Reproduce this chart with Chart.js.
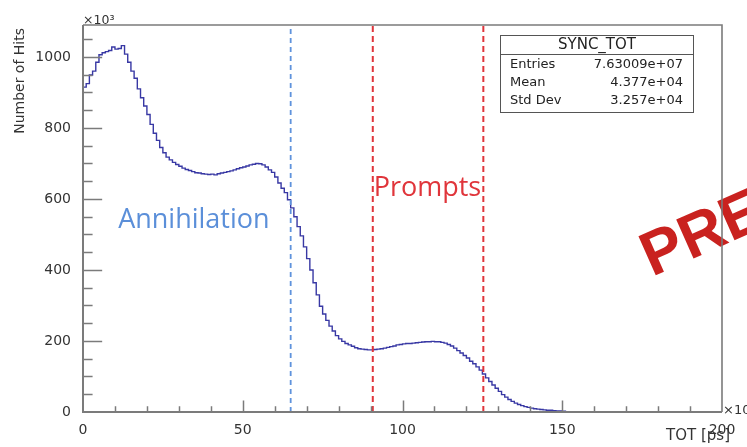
<!DOCTYPE html>
<html>
<head>
<meta charset="utf-8">
<script src="https://cdn.jsdelivr.net/npm/chart.js@4/dist/chart.umd.min.js"></script>
<style>
  html, body { margin: 0; padding: 0; background: #ffffff; }
  canvas { display: block; }
</style>
</head>
<body>
<canvas id="c" width="747" height="447"></canvas>
<script>
// SYNC_TOT: hits per 1 ps TOT bin, in units of 10^3 hits; bin i covers [i, i+1)
const binWidth = 1;
const hitsK = [
  915, 925, 949, 960, 985, 1006, 1012, 1015, 1018, 1028,
  1022, 1024, 1032, 1008, 985, 960, 940, 910, 885, 862,
  838, 810, 785, 765, 745, 730, 718, 710, 703, 697,
  692, 687, 683, 680, 677, 674, 673, 671, 670, 669,
  670, 668, 671, 673, 675, 677, 679, 682, 685, 688,
  690, 693, 696, 698, 700, 699, 696, 690, 682, 675,
  662, 645, 630, 618, 598, 575, 550, 522, 496, 465,
  432, 400, 364, 330, 298, 276, 258, 242, 228, 215,
  206, 199, 193, 189, 185, 181, 178, 177, 176, 175,
  175, 176, 177, 178, 180, 182, 184, 186, 189, 190,
  192, 193, 193, 194, 195, 196, 197, 198, 198, 199,
  198, 198, 196, 194, 190, 186, 180, 173, 166, 159,
  152, 143, 136, 127, 118, 107, 96, 86, 76, 67,
  58, 49, 42, 35, 30, 25, 21, 18, 15, 13,
  11, 9, 8, 7, 6, 5, 5, 4, 3, 3,
  2, 1
];

// axis ranges and labelled ticks
const xRange = [0, 200];
const yRange = [0, 1090];
const xTickValues = [0, 50, 100, 150, 200];
const yTickValues = [0, 200, 400, 600, 800, 1000];
const xMinorStep = 10;
const yMinorStep = 50;

// selection cuts on TOT
const annihilationCut = [65];
const promptCuts = [90.7, 125.3];

// statistics box
const statsTitle = 'SYNC_TOT';
const statsNames = ['Entries', 'Mean', 'Std Dev'];
const statsValues = ['7.63009e+07', '4.377e+04', '3.257e+04'];

const ROOT_FONT = '"DejaVu Sans", "Liberation Sans", sans-serif';
const AXIS_GRAY = '#7b7b7b';

// histogram outline: one point per bin left edge, closed at the last bin's right edge
const histPoints = hitsK.map((v, i) => ({ x: i * binWidth, y: v }));
histPoints.push({ x: hitsK.length * binWidth, y: 0 });

function cutLine(x) {
  return [{ x: x, y: yRange[0] }, { x: x, y: yRange[1] }];
}

const cutDatasets = [
  ...annihilationCut.map(x => ({
    data: cutLine(x), borderColor: '#5f93dc', borderWidth: 1.8,
    borderDash: [5, 4], pointRadius: 0, fill: false
  })),
  ...promptCuts.map(x => ({
    data: cutLine(x), borderColor: '#e0353b', borderWidth: 2,
    borderDash: [6, 4], pointRadius: 0, fill: false
  }))
];

// frame, inward ticks, stats box and annotations drawn in the ROOT style
const rootStyle = {
  id: 'rootStyle',
  afterDatasetsDraw(chart) {
    const ctx = chart.ctx;
    const xs = chart.scales.x, ys = chart.scales.y;

    // region annotations
    ctx.save();
    ctx.font = '27px "Open Sans", Lato, sans-serif';
    ctx.textAlign = 'center';
    ctx.textBaseline = 'middle';
    ctx.fillStyle = '#5b8fd9';
    ctx.fillText('Annihilation', xs.getPixelForValue(34.7), ys.getPixelForValue(541));
    ctx.fillStyle = '#e0353b';
    ctx.fillText('Prompts', xs.getPixelForValue(107.8), ys.getPixelForValue(631));
    ctx.restore();

    // watermark
    ctx.save();
    ctx.translate(652, 277);
    ctx.rotate(-24 * Math.PI / 180);
    ctx.font = 'bold 62px "Liberation Sans", Arial, sans-serif';
    ctx.fillStyle = '#c9221f';
    ctx.textBaseline = 'alphabetic';
    ctx.fillText('PRELIMINARY', 0, 0);
    ctx.restore();
  },
  afterDraw(chart) {
    const ctx = chart.ctx;
    const a = chart.chartArea;
    const xs = chart.scales.x, ys = chart.scales.y;
    const w = a.right - a.left, h = a.bottom - a.top;

    ctx.save();
    ctx.strokeStyle = AXIS_GRAY;
    ctx.lineWidth = 1.6;

    // frame
    ctx.beginPath();
    ctx.moveTo(a.left, a.top); ctx.lineTo(a.right, a.top);
    ctx.lineTo(a.right, a.bottom);
    ctx.stroke();

    // axes
    ctx.lineWidth = 2;
    ctx.beginPath();
    ctx.moveTo(a.left, a.top); ctx.lineTo(a.left, a.bottom);
    ctx.lineTo(a.right, a.bottom);
    ctx.stroke();

    // x ticks pointing into the frame
    ctx.lineWidth = 1.5;
    ctx.beginPath();
    for (let v = xRange[0] + xMinorStep; v < xRange[1]; v += xMinorStep) {
      const px = Math.round(xs.getPixelForValue(v)) + 0.5;
      const len = (v % 50 === 0) ? 0.03 * h : 0.015 * h;
      ctx.moveTo(px, a.bottom); ctx.lineTo(px, a.bottom - len);
    }
    // y ticks pointing into the frame
    for (let v = yRange[0] + yMinorStep; v < yRange[1]; v += yMinorStep) {
      const py = Math.round(ys.getPixelForValue(v)) + 0.5;
      const len = (v % 200 === 0) ? 0.03 * w : 0.015 * w;
      ctx.moveTo(a.left, py); ctx.lineTo(a.left + len, py);
    }
    ctx.stroke();

    // exponent markers and axis titles
    ctx.fillStyle = '#333333';
    ctx.font = '12.5px ' + ROOT_FONT;
    ctx.textAlign = 'left';
    ctx.textBaseline = 'alphabetic';
    ctx.fillText('\u00d710\u00b3', a.left, a.top - 1);
    ctx.font = '13px ' + ROOT_FONT;
    ctx.fillText('\u00d710\u00b3', a.right + 1, a.bottom + 2);

    ctx.font = '15px ' + ROOT_FONT;
    ctx.textAlign = 'right';
    ctx.fillText('TOT [ps]', a.right + 8, 440);

    ctx.save();
    ctx.translate(24, 28);
    ctx.rotate(-Math.PI / 2);
    ctx.font = '14px ' + ROOT_FONT;
    ctx.textAlign = 'right';
    ctx.fillText('Number of Hits', 0, 0);
    ctx.restore();

    // statistics box
    const bx = 500.5, by = 35.5, bw = 193, bh = 77;
    ctx.fillStyle = '#ffffff';
    ctx.fillRect(bx, by, bw, bh);
    ctx.strokeStyle = '#555555';
    ctx.lineWidth = 1;
    ctx.strokeRect(bx, by, bw, bh);
    ctx.beginPath();
    ctx.moveTo(bx, 54.5); ctx.lineTo(bx + bw, 54.5);
    ctx.stroke();

    ctx.fillStyle = '#222222';
    ctx.textBaseline = 'middle';
    ctx.font = '15px ' + ROOT_FONT;
    ctx.textAlign = 'center';
    ctx.fillText(statsTitle, bx + bw / 2, 45);
    ctx.font = '13px ' + ROOT_FONT;
    const rowY = [65, 83, 101];
    statsNames.forEach((name, i) => {
      ctx.textAlign = 'left';
      ctx.fillText(name, 510, rowY[i]);
      ctx.textAlign = 'right';
      ctx.fillText(statsValues[i], 683, rowY[i]);
    });
    ctx.restore();
  }
};

new Chart(document.getElementById('c'), {
  type: 'line',
  data: {
    datasets: [
      ...cutDatasets,
      {
        data: histPoints,
        stepped: true,
        borderColor: '#3838a4',
        borderWidth: 1.4,
        pointRadius: 0,
        fill: false
      }
    ]
  },
  options: {
    responsive: false,
    devicePixelRatio: 1,
    animation: false,
    events: [],
    layout: { padding: { left: 0, top: 25, right: 25, bottom: 0 } },
    plugins: { legend: { display: false }, tooltip: { enabled: false } },
    scales: {
      x: {
        type: 'linear',
        min: xRange[0], max: xRange[1],
        grid: { display: false },
        border: { display: false },
        afterBuildTicks: s => { s.ticks = xTickValues.map(v => ({ value: v })); },
        afterFit: s => { s.height = 35; },
        ticks: {
          padding: 2,
          maxRotation: 0,
          autoSkip: false,
          color: '#333333',
          font: { family: 'DejaVu Sans', size: 14 },
          callback: v => String(v)
        }
      },
      y: {
        type: 'linear',
        min: yRange[0], max: yRange[1],
        grid: { display: false },
        border: { display: false },
        afterBuildTicks: s => { s.ticks = yTickValues.map(v => ({ value: v })); },
        afterFit: s => { s.width = 83; },
        ticks: {
          padding: 4,
          autoSkip: false,
          color: '#333333',
          font: { family: 'DejaVu Sans', size: 14 },
          callback: v => String(v)
        }
      }
    }
  },
  plugins: [rootStyle]
});
</script>
</body>
</html>
